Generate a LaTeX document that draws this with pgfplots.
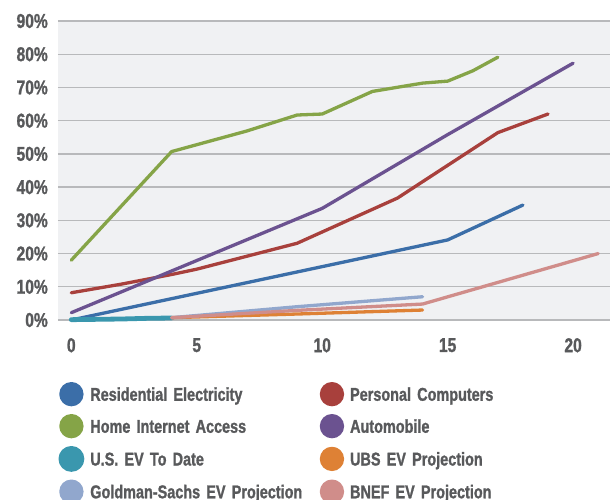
\documentclass[border=0pt]{standalone}
\usepackage{pgfplots}
\pgfplotsset{compat=1.18}
\usepackage{fontspec}
\newfontfamily\chartfont[FakeStretch=0.78, FakeBold=1.2]{Liberation Sans Bold}
\definecolor{cBlue}{HTML}{3B6EA8}
\definecolor{cRed}{HTML}{A8403C}
\definecolor{cGreen}{HTML}{85A447}
\definecolor{cPurple}{HTML}{6B5290}
\definecolor{cTeal}{HTML}{3A97AE}
\definecolor{cOrange}{HTML}{DE8135}
\definecolor{cLBlue}{HTML}{91A7CD}
\definecolor{cPink}{HTML}{D08D8A}
\definecolor{textcol}{HTML}{58595B}
\definecolor{bgcol}{HTML}{F0F1F3}
\definecolor{gridcol}{HTML}{B8B9BB}
\begin{document}
\begin{tikzpicture}
\useasboundingbox (-58bp,-180bp) rectangle (554bp,320bp);
\begin{axis}[
  at={(0,0)}, anchor=south west,
  scale only axis, width=552bp, height=299bp,
  xmin=-0.53, xmax=21.47, ymin=0, ymax=90,
  clip=false,
  axis background/.style={fill=bgcol},
  axis line style={draw=none},
  major tick length=0pt,
  ymajorgrids,
  grid style={gridcol, line width=1.3bp},
  xtick={0,5,10,15,20},
  ytick={0,10,...,90},
  /pgf/number format/assume math mode=true,
  xticklabel={\pgfmathprintnumber{\tick}},
  yticklabel={\pgfmathprintnumber{\tick}\%},
  tick label style={font=\chartfont\fontsize{20bp}{22bp}\selectfont, text=textcol},
  xticklabel style={anchor=north, inner sep=0pt, yshift=-18bp},
  yticklabel style={anchor=east, inner sep=0pt, xshift=-10bp},
  every axis plot/.append style={line width=3.3bp, line cap=round, line join=round},
  legend columns=2,
  legend cell align=left,
  legend image code/.code={\fill (10.5bp,0bp) circle (10.5bp);},
  legend style={
    at={(0,0)}, anchor=north west, xshift=0.5bp, yshift=-62bp,
    draw=none, fill=none, inner sep=0pt, outer sep=0pt,
    font=\chartfont\fontsize{18.5bp}{20bp}\selectfont,
    nodes={inner sep=0pt, text=textcol, text width=229.5bp, align=left, text height=13.2bp, text depth=0bp},
    row sep=7.7bp,
    /tikz/every odd column/.append style={column sep=6bp},
    /tikz/every even column/.append style={column sep=0bp},
  },
]
% Residential Electricity
\addplot[color=cBlue] coordinates {(0,0) (15,24.1) (18,34.6)};
\addlegendentry{Residential Electricity}
% Personal Computers
\addplot[color=cRed] coordinates {(0,8.2) (2,10.8) (4,13.7) (5,15.3) (9,23.1) (13,36.7) (17,56.4) (19,62)};
\addlegendentry{Personal Computers}
% Home Internet Access
\addplot[color=cGreen] coordinates {(0,18) (4,50.7) (7,56.9) (9,61.7) (10,62) (12,68.8) (14,71.3) (15,71.9) (16,75) (17,79.1)};
\addlegendentry{Home Internet Access}
% Automobile
\addplot[color=cPurple] coordinates {(0,2.2) (10,33.6) (15,55.8) (20,77.3)};
\addlegendentry{Automobile}
% U.S. EV To Date
\addplot[color=cTeal, line width=4.8bp] coordinates {(0,0.1) (1,0.2) (2,0.3) (3,0.5) (4,0.6)};
\addlegendentry{U.S. EV To Date}
% UBS EV Projection
\addplot[color=cOrange] coordinates {(4,0.7) (9,1.8) (14,3.0)};
\addlegendentry{UBS EV Projection}
% Goldman-Sachs EV Projection
\addplot[color=cLBlue] coordinates {(4,0.7) (9,4.0) (14,7.0)};
\addlegendentry{Goldman-Sachs EV Projection}
% BNEF EV Projection
\addplot[color=cPink] coordinates {(4,0.7) (9,2.9) (14,4.8) (21,20)};
\addlegendentry{BNEF EV Projection}
\end{axis}
\end{tikzpicture}
\end{document}
